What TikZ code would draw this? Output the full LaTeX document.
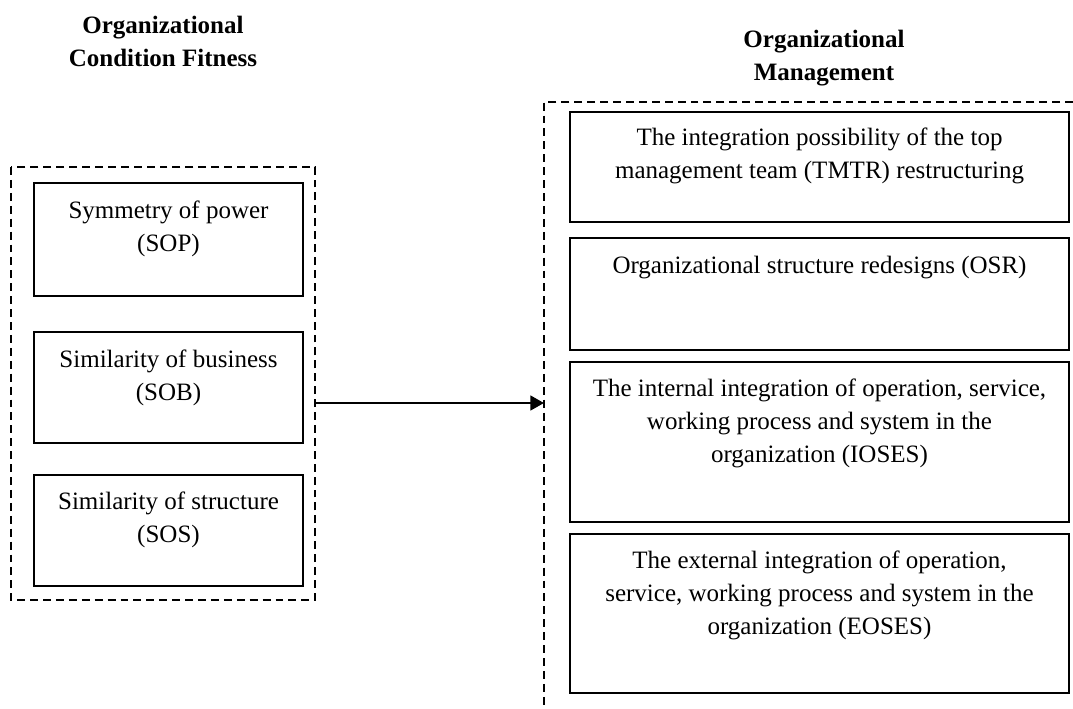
\documentclass[tikz,border=0pt]{standalone}
\usepackage{fontspec}
\setmainfont{Liberation Serif}
\usetikzlibrary{arrows.meta}

\begin{document}
\begin{tikzpicture}[x=0.48pt, y=-0.48pt,
  cellbox/.style={line width=1pt},
  groupbox/.style={dash pattern=on 3.8pt off 2.4pt, line width=0.7pt},
  celltext/.style={anchor=base, align=center, inner sep=0pt, font=\fontsize{12}{15.8}\selectfont},
  headtext/.style={anchor=base, align=center, inner sep=0pt, font=\fontsize{12}{15.8}\selectfont\bfseries},
  linkarrow/.style={line width=1.2pt, -{Triangle[length=6.5pt, width=7pt]}}]
  \useasboundingbox (0,0) rectangle (1073,708);

  % headings (base = last line)
  \node[headtext] (head_cond) at (163,66) {Organizational\\Condition Fitness};
  \node[headtext] (head_mgmt) at (824,80) {Organizational\\Management};

  % draw dashed group boxes
  \draw[groupbox] (11,167) rectangle (315,600);
  \draw[groupbox] (1073,102) -- (544,102) -- (544,708);

  % draw left cell boxes
  \draw[cellbox] (34,183) rectangle (303,296);
  \node[celltext] (cond_sop) at (168.5,251) {Symmetry of power\\(SOP)};
  \draw[cellbox] (34,332) rectangle (303,443);
  \node[celltext] (cond_sob) at (168.5,400) {Similarity of business\\(SOB)};
  \draw[cellbox] (34,475) rectangle (303,586);
  \node[celltext] (cond_sos) at (168.5,542) {Similarity of structure\\(SOS)};

  % draw right cell boxes
  \draw[cellbox] (570,112) rectangle (1069,222);
  \node[celltext] (mgmt_tmtr) at (819.5,178) {The integration possibility of the top\\management team (TMTR) restructuring};
  \draw[cellbox] (570,238) rectangle (1069,350);
  \node[celltext] (mgmt_osr) at (819.5,273) {Organizational structure redesigns (OSR)};
  \draw[cellbox] (570,362) rectangle (1069,522);
  \node[celltext] (mgmt_ioses) at (819.5,462) {The internal integration of operation, service,\\working process and system in the\\organization (IOSES)};
  \draw[cellbox] (570,534) rectangle (1069,693);
  \node[celltext] (mgmt_eoses) at (819.5,634) {The external integration of operation,\\service, working process and system in the\\organization (EOSES)};

  % link between the groups
  \coordinate (cond_out) at (315,403);
  \coordinate (mgmt_in) at (544,403);
  \draw[linkarrow] (cond_out) -- (mgmt_in);
\end{tikzpicture}
\end{document}
